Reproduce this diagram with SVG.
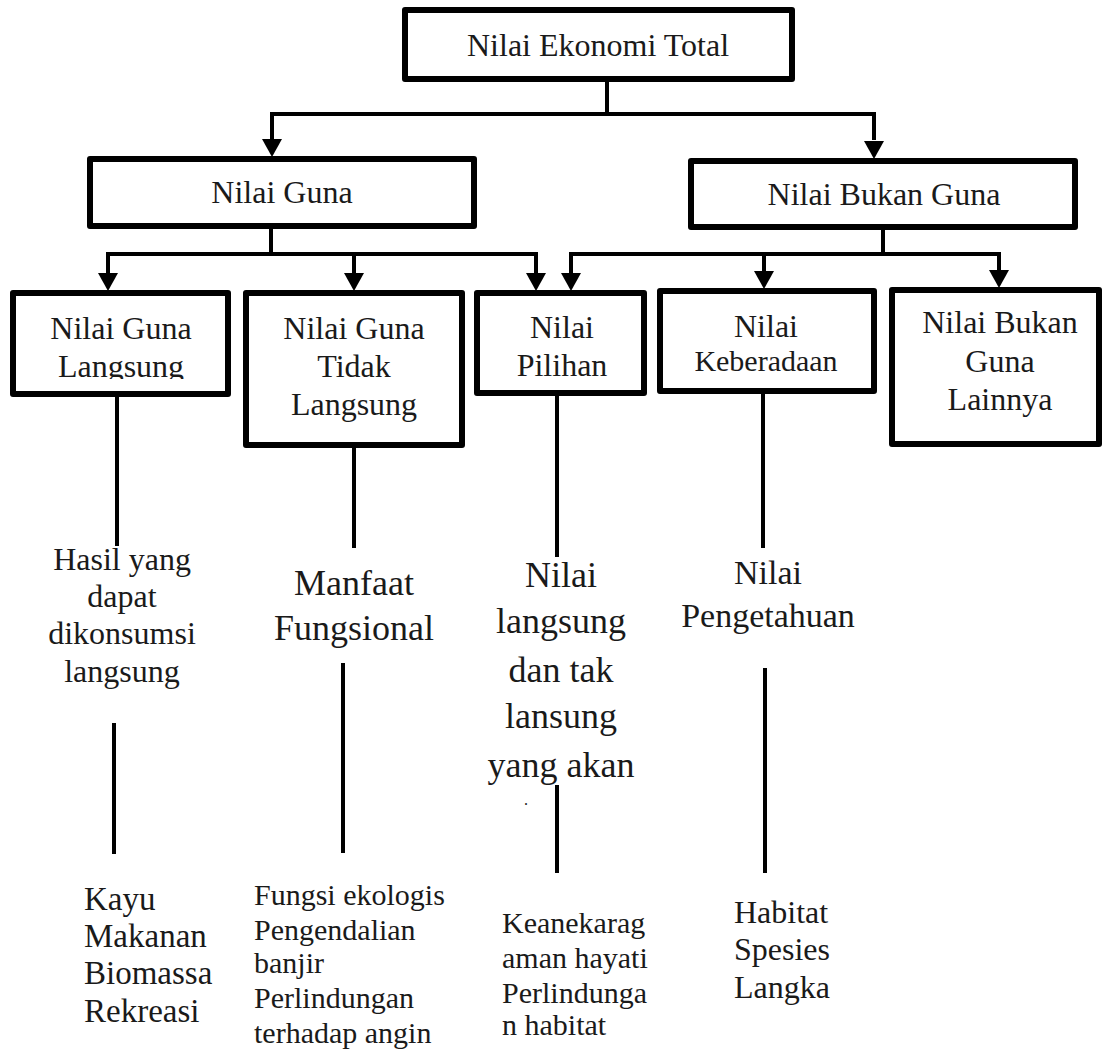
<svg xmlns="http://www.w3.org/2000/svg" xmlns:xlink="http://www.w3.org/1999/xlink" width="1104" height="1049" viewBox="0 0 1104 1049">
<style>
  .box { fill: none; stroke: #000; stroke-width: 6; stroke-linejoin: round; }
  .ln { fill: none; stroke: #000; stroke-width: 4; stroke-linejoin: miter; }
  .t { font-family: "Liberation Serif", "Times New Roman", serif; fill: #1a1a1a; text-anchor: middle; }
  .l { font-family: "Liberation Serif", "Times New Roman", serif; fill: #1a1a1a; text-anchor: start; }
</style>
<defs>
  <path id="ah" d="M-10,-18 L10,-18 L0,0 Z" fill="#000"/>
  <clipPath id="clip1"><rect x="16" y="296" width="209" height="83"/></clipPath>
</defs>
<rect width="1104" height="1049" fill="#fff"/>

<g id="connectors">
  <path class="ln" d="M607,82 V114"/>
  <path class="ln" d="M272,140 V114 H874 V140"/>
  <use xlink:href="#ah" x="272" y="157"/>
  <use xlink:href="#ah" x="874" y="159"/>

  <path class="ln" d="M271,229 V254"/>
  <path class="ln" d="M108,274 V254 H536 V274"/>
  <path class="ln" d="M354,254 V274"/>
  <use xlink:href="#ah" x="108" y="291"/>
  <use xlink:href="#ah" x="354" y="291"/>
  <use xlink:href="#ah" x="536" y="291"/>

  <path class="ln" d="M883,230 V254"/>
  <path class="ln" d="M571,274 V254 H999 V272"/>
  <path class="ln" d="M764,254 V272"/>
  <use xlink:href="#ah" x="571" y="291"/>
  <use xlink:href="#ah" x="764" y="289"/>
  <use xlink:href="#ah" x="999" y="288"/>

  <path class="ln" d="M117,397 V546"/>
  <path class="ln" d="M114,723 V854"/>
  <path class="ln" d="M354,448 V548"/>
  <path class="ln" d="M343,663 V853"/>
  <path class="ln" d="M557,396 V557"/>
  <path class="ln" d="M557,785 V873"/>
  <path class="ln" d="M763,394 V548"/>
  <path class="ln" d="M765,668 V873"/>
</g>

<g id="node-total">
  <rect class="box" x="405" y="10" width="387" height="69"/>
  <text class="t" x="598" y="56" font-size="32">Nilai Ekonomi Total</text>
</g>

<g id="node-guna">
  <rect class="box" x="90" y="159" width="384" height="67"/>
  <text class="t" x="282" y="203" font-size="32">Nilai Guna</text>
</g>

<g id="node-bukan-guna">
  <rect class="box" x="691" y="161" width="384" height="66"/>
  <text class="t" x="884" y="205" font-size="32">Nilai Bukan Guna</text>
</g>

<g id="node-guna-langsung">
  <g clip-path="url(#clip1)">
    <text class="t" x="121" y="339" font-size="32">Nilai Guna</text>
    <text class="t" x="121" y="377" font-size="32">Langsung</text>
  </g>
  <rect class="box" x="13" y="293" width="215" height="101"/>
</g>

<g id="node-guna-tidak-langsung">
  <rect class="box" x="246" y="293" width="216" height="152"/>
  <text class="t" x="354" y="339" font-size="32">Nilai Guna</text>
  <text class="t" x="354" y="377" font-size="32">Tidak</text>
  <text class="t" x="354" y="415" font-size="32">Langsung</text>
</g>

<g id="node-pilihan">
  <rect class="box" x="477" y="293" width="167" height="100"/>
  <text class="t" x="562" y="338" font-size="32">Nilai</text>
  <text class="t" x="562" y="376" font-size="32">Pilihan</text>
</g>

<g id="node-keberadaan">
  <rect class="box" x="660" y="291" width="214" height="100"/>
  <text class="t" x="766" y="337" font-size="32">Nilai</text>
  <text class="t" x="766" y="371" font-size="30">Keberadaan</text>
</g>

<g id="node-bukan-guna-lainnya">
  <rect class="box" x="892" y="290" width="207" height="154"/>
  <text class="t" x="1000" y="333" font-size="32">Nilai Bukan</text>
  <text class="t" x="1000" y="372" font-size="32">Guna</text>
  <text class="t" x="1000" y="410" font-size="32">Lainnya</text>
</g>

<g id="label-hasil">
  <text class="t" x="122" y="570" font-size="32">Hasil yang</text>
  <text class="t" x="122" y="607" font-size="32">dapat</text>
  <text class="t" x="122" y="644" font-size="32">dikonsumsi</text>
  <text class="t" x="122" y="682" font-size="32">langsung</text>
</g>

<g id="label-manfaat">
  <text class="t" x="354" y="595" font-size="36">Manfaat</text>
  <text class="t" x="354" y="640" font-size="36">Fungsional</text>
</g>

<g id="label-nilai-langsung">
  <text class="t" x="561" y="587" font-size="36">Nilai</text>
  <text class="t" x="561" y="633" font-size="36">langsung</text>
  <text class="t" x="561" y="682" font-size="36">dan tak</text>
  <text class="t" x="561" y="728" font-size="36">lansung</text>
  <text class="t" x="561" y="777" font-size="36">yang akan</text>
  <text class="t" x="526" y="805" font-size="16">.</text>
</g>

<g id="label-pengetahuan">
  <text class="t" x="768" y="584" font-size="34">Nilai</text>
  <text class="t" x="768" y="627" font-size="34">Pengetahuan</text>
</g>

<g id="list-kayu">
  <text class="l" x="84" y="910" font-size="33">Kayu</text>
  <text class="l" x="84" y="947" font-size="33">Makanan</text>
  <text class="l" x="84" y="984" font-size="33">Biomassa</text>
  <text class="l" x="84" y="1022" font-size="33">Rekreasi</text>
</g>

<g id="list-fungsi">
  <text class="l" x="254" y="905" font-size="30">Fungsi ekologis</text>
  <text class="l" x="254" y="940" font-size="30">Pengendalian</text>
  <text class="l" x="254" y="973" font-size="30">banjir</text>
  <text class="l" x="254" y="1008" font-size="30">Perlindungan</text>
  <text class="l" x="254" y="1043" font-size="30">terhadap angin</text>
</g>

<g id="list-keanekaragaman">
  <text class="l" x="502" y="933" font-size="30">Keanekarag</text>
  <text class="l" x="502" y="968" font-size="30">aman hayati</text>
  <text class="l" x="502" y="1003" font-size="30">Perlindunga</text>
  <text class="l" x="502" y="1035" font-size="30">n habitat</text>
</g>

<g id="list-habitat">
  <text class="l" x="734" y="923" font-size="32">Habitat</text>
  <text class="l" x="734" y="960" font-size="32">Spesies</text>
  <text class="l" x="734" y="998" font-size="32">Langka</text>
</g>
</svg>
